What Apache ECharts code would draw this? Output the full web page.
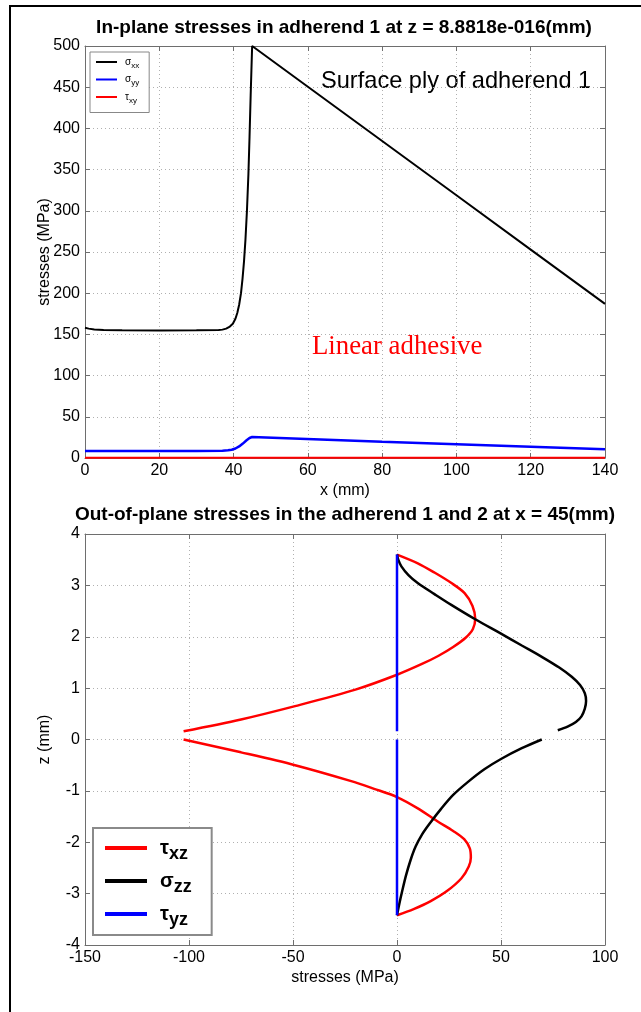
<!DOCTYPE html>
<html>
<head>
<meta charset="utf-8">
<script src="https://cdn.jsdelivr.net/npm/echarts@6/dist/echarts.min.js"></script>
<style>
  html, body { margin: 0; padding: 0; background: #fff; }
  #chart { width: 641px; height: 1012px; }
</style>
</head>
<body>
<div id="chart"></div>
<script>
// ---- In-plane stresses in adherend 1, along x (mm) -> MPa ----
const sigmaXX = [
  [0, 158], [1, 157], [2.5, 156], [5, 155.3], [10, 155], [20, 154.8], [30, 155],
  [36, 155.3], [37, 155.8], [38, 157], [39, 159.5], [39.8, 163], [40.5, 169],
  [41, 176], [41.5, 186], [42, 200], [42.4, 217], [42.8, 238], [43.2, 265],
  [43.6, 300], [44, 345], [44.3, 390], [44.6, 440], [44.8, 470], [45, 500],
  [60, 450.6], [80, 384.7], [100, 318.8], [120, 252.9], [140, 187]
];
const sigmaYY = [
  [0, 8.5], [10, 8.5], [20, 8.5], [30, 8.5], [37, 8.8], [38.5, 9.3], [39.5, 10],
  [40.5, 11.5], [41.5, 14], [42.5, 17.5], [43.5, 21.5], [44.3, 24.3], [45, 25.5],
  [80, 19.8], [140, 10.5]
];
const tauXY = [[0, 0.3], [140, 0.3]];

// ---- Out-of-plane stresses through the thickness at x = 45 mm: [MPa, z (mm)] ----
const tauXZUpper = [
  [0, 3.6], [10, 3.43], [18, 3.25], [26, 3.05], [32.5, 2.85], [36.3, 2.6],
  [37.6, 2.35], [36.5, 2.15], [33, 1.98], [27, 1.8], [20, 1.63], [12, 1.47],
  [0, 1.26], [-20, 0.97], [-49, 0.65], [-75, 0.39], [-102.6, 0.16]
];
const tauXZLower = [
  [-102.6, 0], [-75, -0.25], [-49, -0.5], [-22, -0.81], [-11, -0.96], [0, -1.12],
  [10, -1.34], [19.4, -1.59], [27, -1.78], [32.3, -1.94], [35, -2.12], [35.5, -2.3],
  [34.5, -2.47], [31, -2.7], [24, -2.95], [16, -3.15], [8, -3.3], [0, -3.42]
];
const sigmaZZUpper = [
  [0, 3.6], [0.6, 3.5], [2.1, 3.37], [5.5, 3.2], [10.1, 3.04], [18, 2.83], [26.1, 2.62],
  [37.6, 2.34], [50, 2.06], [60, 1.83], [70, 1.6], [78, 1.4], [84, 1.22], [88, 1.06],
  [90.3, 0.9], [90.9, 0.75], [90.3, 0.6], [88.7, 0.45], [86, 0.34], [82, 0.25], [77.3, 0.18]
];
const sigmaZZLower = [
  [69.6, 0], [60, -0.17], [50, -0.38], [42, -0.58], [34, -0.83], [27, -1.08],
  [21, -1.36], [16, -1.62], [12, -1.85], [9, -2.08], [6.5, -2.35], [4.3, -2.65],
  [2.5, -2.95], [1.1, -3.2], [0, -3.42]
];
const tauYZUpper = [[0, 3.6], [0, 0.16]];
const tauYZLower = [[0, 0], [0, -3.42]];

// ---- Axis settings ----
const xTopRange = { min: 0, max: 140, interval: 20 };
const yTopRange = { min: 0, max: 500, interval: 50 };
const xBotRange = { min: -150, max: 100, interval: 50 };
const yBotRange = { min: -4, max: 4, interval: 1 };

const FONT = 'Liberation Sans, Arial, sans-serif';
const AXIS_GRAY = '#6e6e6e';

function mainAxis(range, gridIndex, position, name, nameGap) {
  return {
    type: 'value', gridIndex, position, ...range,
    name, nameLocation: 'middle', nameGap, nameMoveOverlap: false,
    nameTextStyle: { fontFamily: FONT, fontSize: 16, color: '#000' },
    axisLine: { show: true, onZero: false, lineStyle: { color: AXIS_GRAY, width: 1 } },
    axisTick: { show: true, inside: true, length: 5, lineStyle: { color: AXIS_GRAY } },
    axisLabel: { fontFamily: FONT, fontSize: 16, color: '#000', margin: 5 },
    splitLine: { show: true, lineStyle: { type: [1, 3], color: '#b0b0b0', width: 1 } }
  };
}
function mirrorAxis(range, gridIndex, position) {
  return {
    type: 'value', gridIndex, position, ...range,
    axisLine: { show: true, onZero: false, lineStyle: { color: AXIS_GRAY, width: 1 } },
    axisTick: { show: true, inside: true, length: 5, lineStyle: { color: AXIS_GRAY } },
    axisLabel: { show: false },
    splitLine: { show: false }
  };
}

function lineSeries(name, data, color, width, xi, yi, smooth) {
  return {
    type: 'line', name, data, xAxisIndex: xi, yAxisIndex: yi,
    showSymbol: false, symbol: 'none', smooth, clip: false,
    lineStyle: { color, width }, itemStyle: { color },
    emphasis: { disabled: true }
  };
}

// legend label: greek letter followed by a subscript
function subLabel(name) {
  return '{g|' + name.charAt(0) + '}{s|' + name.slice(1) + '}';
}

const chart = echarts.init(document.getElementById('chart'), null, { renderer: 'canvas' });

chart.setOption({
  animation: false,
  backgroundColor: '#fff',
  grid: [
    { left: 85, top: 46, right: 36, height: 412 },
    { left: 85, top: 534, right: 36, height: 411 }
  ],
  xAxis: [
    mainAxis(xTopRange, 0, 'bottom', 'x (mm)', 25),
    mirrorAxis(xTopRange, 0, 'top'),
    mainAxis(xBotRange, 1, 'bottom', 'stresses (MPa)', 25),
    mirrorAxis(xBotRange, 1, 'top')
  ],
  yAxis: [
    mainAxis(yTopRange, 0, 'left', 'stresses (MPa)', 32),
    mirrorAxis(yTopRange, 0, 'right'),
    mainAxis(yBotRange, 1, 'left', 'z (mm)', 32),
    mirrorAxis(yBotRange, 1, 'right')
  ],
  legend: [
    {
      data: ['σxx', 'σyy', 'τxy'],
      orient: 'vertical', left: 90, top: 52,
      padding: [5, 10, 8, 6], itemGap: 5,
      backgroundColor: '#fff', borderColor: '#888', borderWidth: 1,
      icon: 'rect', itemWidth: 21, itemHeight: 2,
      formatter: subLabel,
      textStyle: {
        fontFamily: FONT, color: '#000',
        rich: {
          g: { fontSize: 10, fontFamily: FONT, padding: [0, 0, 0, 3] },
          s: { fontSize: 8, fontFamily: FONT, padding: [7, 0, 0, 0] }
        }
      }
    },
    {
      data: ['τxz', 'σzz', 'τyz'],
      orient: 'vertical', left: 93, top: 828,
      padding: [10, 20, 6, 12], itemGap: 8,
      backgroundColor: '#fff', borderColor: '#8a8a8a', borderWidth: 2,
      icon: 'rect', itemWidth: 42, itemHeight: 4,
      formatter: subLabel,
      textStyle: {
        fontFamily: FONT, color: '#000',
        rich: {
          g: { fontSize: 20, fontFamily: FONT, fontWeight: 'bold', padding: [0, 0, 0, 8] },
          s: { fontSize: 18, fontFamily: FONT, fontWeight: 'bold', padding: [12, 0, 0, 0] }
        }
      }
    }
  ],
  graphic: [
    {
      type: 'polyline', silent: true,
      shape: { points: [[10, 1012], [10, 6], [641, 6]] },
      style: { stroke: '#000', lineWidth: 2, fill: null }
    },
    {
      type: 'text', x: 344, y: 28, silent: true,
      style: {
        text: 'In-plane stresses in adherend 1 at z = 8.8818e-016(mm)',
        font: 'bold 19px ' + FONT, fill: '#000', textAlign: 'center', textVerticalAlign: 'middle'
      }
    },
    {
      type: 'text', x: 345, y: 515, silent: true,
      style: {
        text: 'Out-of-plane stresses in the adherend 1 and 2 at x = 45(mm)',
        font: 'bold 19px ' + FONT, fill: '#000', textAlign: 'center', textVerticalAlign: 'middle'
      }
    },
    {
      type: 'text', x: 321, y: 81, silent: true,
      style: {
        text: 'Surface ply of adherend 1',
        font: '23.6px ' + FONT, fill: '#000', textAlign: 'left', textVerticalAlign: 'middle'
      }
    },
    {
      type: 'text', x: 312, y: 347, silent: true,
      style: {
        text: 'Linear adhesive',
        font: '26.8px Liberation Serif, Times New Roman, serif', fill: '#ff0000',
        textAlign: 'left', textVerticalAlign: 'middle'
      }
    }
  ],
  series: [
    lineSeries('σxx', sigmaXX, '#000000', 2, 0, 0, false),
    lineSeries('σyy', sigmaYY, '#0000ff', 2.5, 0, 0, false),
    lineSeries('τxy', tauXY, '#ff0000', 2, 0, 0, false),
    lineSeries('τxz', tauXZUpper, '#ff0000', 2.5, 2, 2, 0.3),
    lineSeries('τxz', tauXZLower, '#ff0000', 2.5, 2, 2, 0.3),
    lineSeries('σzz', sigmaZZUpper, '#000000', 2.5, 2, 2, 0.3),
    lineSeries('σzz', sigmaZZLower, '#000000', 2.5, 2, 2, 0.3),
    lineSeries('τyz', tauYZUpper, '#0000ff', 2.5, 2, 2, false),
    lineSeries('τyz', tauYZLower, '#0000ff', 2.5, 2, 2, false)
  ]
});
</script>
</body>
</html>
